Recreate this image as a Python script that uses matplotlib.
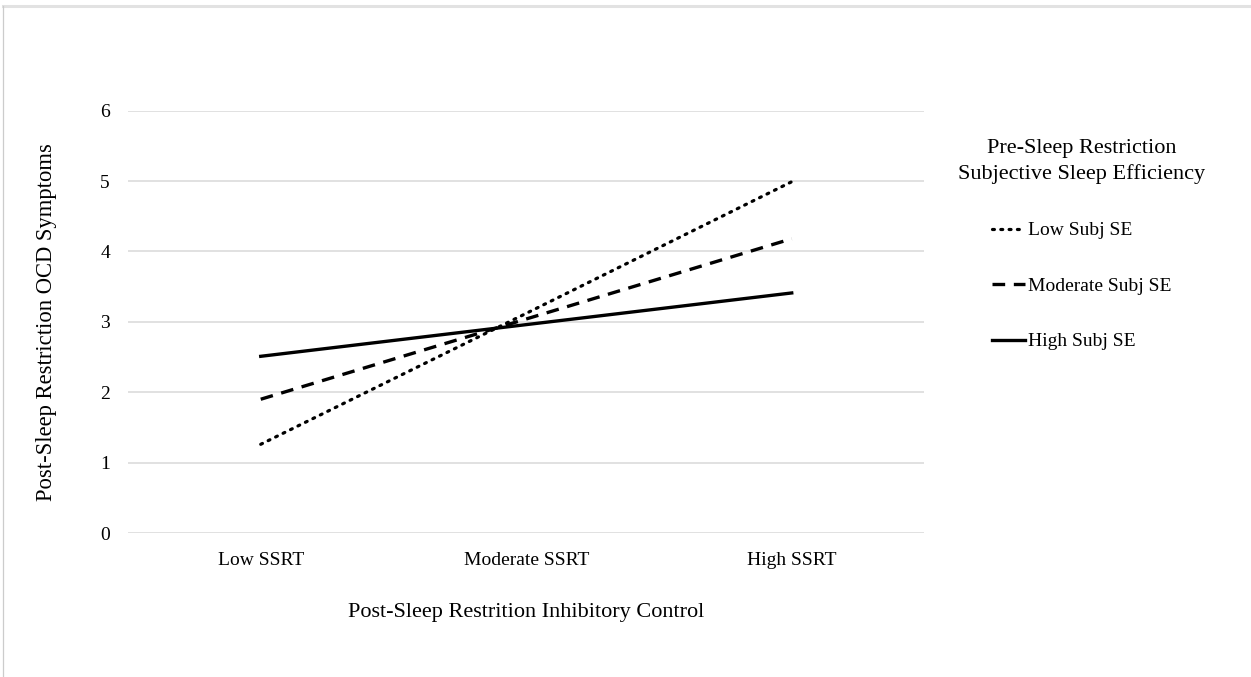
import matplotlib.pyplot as plt
from matplotlib.lines import Line2D

plt.rcParams['font.family'] = ['Liberation Serif', 'DejaVu Serif']

ssrt_levels = ['Low SSRT', 'Moderate SSRT', 'High SSRT']
low_subj_se = [1.26, 3.12, 4.99]
moderate_subj_se = [1.90, 3.04, 4.18]
high_subj_se = [2.51, 2.96, 3.41]

fig = plt.figure(figsize=(12.51, 6.77), dpi=100)
ax = fig.add_axes([0.1023, 0.2127, 0.6367, 0.6239])

x = range(len(ssrt_levels))
ax.plot(x, low_subj_se, color='black', lw=2.3, linestyle=(0, (0.6, 2.0)),
        dash_capstyle='round', label='Low Subj SE')
ax.plot(x, moderate_subj_se, color='black', lw=2.4, linestyle=(0, (3.8, 2.6)),
        label='Moderate Subj SE')
ax.plot(x, high_subj_se, color='black', lw=2.4, label='High Subj SE')

ax.set_xlim(-0.5, 2.5)
ax.set_ylim(0, 6)
ax.set_yticks(range(0, 7))
ax.set_xticks(list(x))
ax.set_xticklabels(ssrt_levels)
ax.tick_params(length=0, labelsize=14)
ax.tick_params(axis='y', pad=13)
ax.tick_params(axis='x', pad=14)
ax.grid(axis='y', color='#d9d9d9', lw=1.1)
ax.set_axisbelow(True)
for side in ax.spines.values():
    side.set_visible(False)

ax.set_xlabel('Post-Sleep Restrition Inhibitory Control', fontsize=16, labelpad=24)
ax.set_ylabel('Post-Sleep Restriction OCD Symptoms', fontsize=16.3, labelpad=31)

leg = ax.legend(title='Pre-Sleep Restriction\nSubjective Sleep Efficiency',
                loc='upper left', bbox_to_anchor=(1.02, 0.975), frameon=False,
                fontsize=14, title_fontsize=16, handlelength=1.7,
                handletextpad=0.15, labelspacing=1.95)
leg.get_title().set_multialignment('center')
leg.get_title().set_linespacing(1.45)
leg._legend_box.sep = 27

# thin frame along the top and left edge
fig.add_artist(Line2D([0.0025, 1], [0.991, 0.991], color='#e2e2e2', lw=2.2))
fig.add_artist(Line2D([0.0025, 0.0025], [0, 0.991], color='#cccccc', lw=0.9))

fig.savefig('out.png', dpi=100)
